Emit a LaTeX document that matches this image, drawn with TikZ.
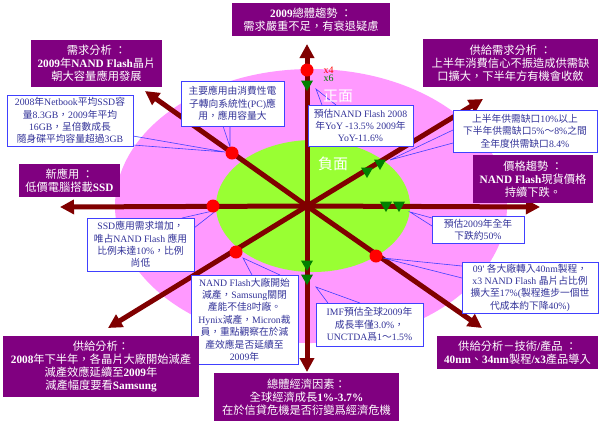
\documentclass[tikz,border=0pt]{standalone}
\usepackage{fontspec}
\usetikzlibrary{arrows.meta,shapes.geometric}
\setmainfont{Liberation Serif}
\newfontfamily\cjkfam{Noto Sans CJK TC}
\newfontfamily\latfam{Liberation Serif}
\newcommand\cjk{\cjkfam\mdseries}
\newcommand\latmd{\latfam\mdseries}
\newcommand\latbd{\latfam\bfseries}
\let\latinfont\latmd
\chardef\cjkcls=7
\newcount\mycnt
\def\setcls#1#2{\mycnt=#1 \loop\XeTeXcharclass\mycnt=\cjkcls \ifnum\mycnt<#2 \advance\mycnt by 1 \repeat}
\setcls{"3000}{"303F}
\setcls{"4E00}{"9FFF}
\setcls{"FF00}{"FFEF}
\XeTeXinterchartoks 0 7={\cjk}
\XeTeXinterchartoks 1 7={\cjk}
\XeTeXinterchartoks 2 7={\cjk}
\XeTeXinterchartoks 3 7={\cjk}
\XeTeXinterchartoks 4095 7={\cjk}
\XeTeXinterchartoks 7 0={\latinfont}
\XeTeXinterchartoks 7 1={\latinfont}
\XeTeXinterchartoks 7 2={\latinfont}
\XeTeXinterchartoks 7 3={\latinfont}
\XeTeXinterchartoks 7 4095={\latinfont}
\XeTeXinterchartokenstate=1
\definecolor{purp}{HTML}{800080}
\definecolor{maroonc}{HTML}{800000}
\definecolor{pinkc}{HTML}{FF99FF}
\definecolor{limec}{HTML}{99FF33}
\definecolor{tgreen}{HTML}{008000}
\definecolor{cblue}{HTML}{4040FF}
\definecolor{cnavy}{HTML}{333399}
\tikzset{
  pbox/.style={fill=purp, text=white, inner sep=0pt, align=center,
    font=\fontsize{11.3}{13.2}\selectfont\let\latinfont\latbd\latinfont},
  cbox/.style={draw=cblue, line width=0.6bp, fill=white, text=cnavy, inner sep=0pt, align=center,
    font=\fontsize{9.8}{12.4}\selectfont\latmd},
  tail/.style={draw=cblue, line width=0.6bp},
  arr/.style={draw=maroonc, line width=5bp, -{Triangle[length=14bp,width=14bp]}},
  rdot/.style={circle, fill=red, minimum size=13bp, inner sep=0pt},
  gtri/.style={regular polygon, regular polygon sides=3, shape border rotate=180, fill=tgreen, minimum size=14bp, inner sep=0pt},
  wlbl/.style={text=white, inner sep=0pt, font=\fontsize{15}{15}\selectfont\latmd},
}
\begin{document}
\begin{tikzpicture}[x=1bp,y=-1bp]
\useasboundingbox (0,0) rectangle (600,423);
\fill[white] (0,0) rectangle (600,423);
\fill[pinkc] (311,206) ellipse [x radius=196, y radius=137];
\fill[limec] (313,206) ellipse [x radius=97, y radius=66];

% arrows
\coordinate (c) at (307,206);
\coordinate (tU) at (307,44);
\coordinate (tD) at (307,372);
\coordinate (tL) at (60,207);
\coordinate (tR) at (540,207);
\coordinate (tUL) at (145,91);
\coordinate (tUR) at (483,99);
\coordinate (tDL) at (108,328);
\coordinate (tDR) at (482,328);
\foreach \t in {tU,tD,tL,tR,tUL,tUR,tDL,tDR} {\draw[arr] (c) -- (\t);}

% callout tails
\coordinate (a1) at (133,136); \coordinate (b1) at (133,145); \coordinate (p1) at (225,152);
\coordinate (a2) at (223,126); \coordinate (b2) at (230,126); \coordinate (p2) at (230,147);
\coordinate (a3) at (322,105); \coordinate (b3) at (336,105); \coordinate (p3) at (316,89);
\coordinate (a4) at (453,130); \coordinate (b4) at (453,143); \coordinate (p4) at (390,160);
\coordinate (a5) at (432,218); \coordinate (b5) at (432,226); \coordinate (p5) at (410,212);
\coordinate (a6) at (182,218); \coordinate (b6) at (194,228); \coordinate (p6) at (217,210);
\coordinate (a7) at (252,275); \coordinate (b7) at (280,275); \coordinate (p7) at (243,258);
\coordinate (a8) at (462,266); \coordinate (b8) at (462,278); \coordinate (p8) at (383,258);
\coordinate (a9) at (328,303); \coordinate (b9) at (360,303); \coordinate (p9) at (316,287);
\foreach \i in {1,...,9} {\draw[tail] (a\i) -- (p\i) -- (b\i);}

% markers
\node[rdot] (r1) at (307,70) {};
\node[rdot] (r2) at (232,153) {};
\node[rdot] (r3) at (213,206) {};
\node[rdot] (r4) at (236,252) {};
\node[rdot] (r5) at (376,256) {};
\node[gtri] (g1) at (307,84) {};
\node[gtri] (g2) at (367,171) {};
\node[gtri] (g3) at (380,163) {};
\node[gtri] (g4) at (386,205) {};
\node[gtri] (g5) at (399,205) {};
\node[gtri] (g6) at (307,264) {};
\node[gtri] (g7) at (307,278) {};
\node[text=red, inner sep=0pt, font=\fontsize{10}{10}\selectfont\latmd] (x4) at (328.5,70) {x4};
\node[text=tgreen, inner sep=0pt, font=\fontsize{10}{10}\selectfont\latmd] (x6) at (328.5,78.5) {x6};
\node[wlbl] (zm) at (338,96) {正面};
\node[wlbl] (fm) at (333,164) {負面};

% callouts
\node[cbox, minimum width=126bp, minimum height=51bp] (c1) at (70,120.5)
  {2008年Netbook平均SSD容\\量8.3GB，2009年平均\\16GB，呈倍數成長\\隨身碟平均容量超過3GB};
\node[cbox, minimum width=103bp, minimum height=45bp] (c2) at (232.5,103.5)
  {主要應用由消費性電\\子轉向系統性(PC)應\\用，應用容量大};
\node[cbox, minimum width=105bp, minimum height=41bp] (c3) at (360.5,125.5)
  {預估NAND Flash 2008\\年YoY -13.5\% 2009年\\YoY-11.6\%};
\node[cbox, minimum width=144bp, minimum height=42bp] (c4) at (525,131)
  {上半年供需缺口10\%以上\\下半年供需缺口5\%～8\%之間\\全年度供需缺口8.4\%};
\node[cbox, minimum width=92bp, minimum height=27bp] (c5) at (478,229.5)
  {預估2009年全年\\下跌約50\%};
\node[cbox, minimum width=107bp, minimum height=53bp] (c6) at (140.5,244.5)
  {SSD應用需求增加，\\唯占NAND Flash 應用\\比例未達10\%，比例\\尚低};
\node[cbox, minimum width=107bp, minimum height=89bp] (c7) at (244.5,319.5)
  {NAND Flash大廠開始\\減產，Samsung關閉\\產能不佳8吋廠。\\Hynix減產，Micron裁\\員，重點觀察在於減\\產效應是否延續至\\2009年};
\node[cbox, minimum width=136bp, minimum height=51bp] (c8) at (530,287.5)
  {09' 各大廠轉入40nm製程，\\x3 NAND Flash 晶片占比例\\擴大至17\%(製程進步一個世\\代成本約下降40\%)};
\node[cbox, minimum width=107bp, minimum height=43bp] (c9) at (369.5,324.5)
  {IMF預估全球2009年\\成長率僅3.0\%，\\UNCTDA爲1～1.5\%};

% purple boxes
\node[pbox, minimum width=158bp, minimum height=33bp] (pA) at (311,19.5)
  {2009總體趨勢 ：\\需求嚴重不足，有衰退疑慮};
\node[pbox, minimum width=131bp, minimum height=47bp] (pB) at (96.5,63.5)
  {需求分析 ：\\2009年NAND Flash晶片\\朝大容量應用發展};
\node[pbox, minimum width=175bp, minimum height=48bp] (pC) at (510.5,63)
  {供給需求分析 ：\\上半年消費信心不振造成供需缺\\口擴大，下半年方有機會收斂};
\node[pbox, minimum width=101bp, minimum height=33bp] (pD) at (69.5,180.5)
  {新應用 ：\\低價電腦搭載SSD};
\node[pbox, minimum width=120bp, minimum height=48bp] (pE) at (533,179)
  {價格趨勢 ：\\NAND Flash現貨價格\\持續下跌。};
\node[pbox, minimum width=196bp, minimum height=61bp] (pF) at (101,366.5)
  {供給分析：\\2008年下半年，各晶片大廠開始減產\\減產效應延續至2009年\\減產幅度要看Samsung};
\node[pbox, minimum width=185bp, minimum height=48bp] (pG) at (306.5,397)
  {總體經濟因素：\\全球經濟成長1\%-3.7\%\\在於信貸危機是否衍變爲經濟危機};
\node[pbox, minimum width=161bp, minimum height=33bp] (pH) at (517.5,352.5)
  {供給分析－技術/產品 ：\\40nm、34nm製程/x3產品導入};
\end{tikzpicture}
\end{document}
